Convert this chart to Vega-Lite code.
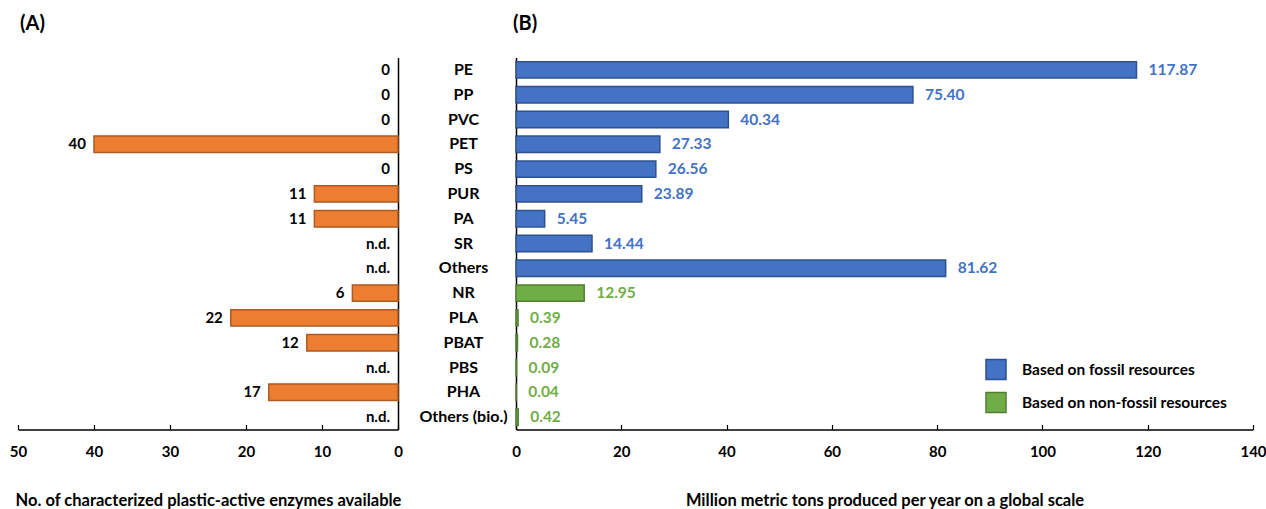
{
  "$schema": "https://vega.github.io/schema/vega-lite/v6.json",
  "autosize": {"type": "pad"},
  "padding": {"left": 9, "top": 13.5, "right": 0, "bottom": 0},
  "bounds": "flush",
  "spacing": 118,
  "config": {
    "font": "Lato",
    "view": {"stroke": null},
    "axis": {"labelFont": "Lato", "labelFontWeight": "bold", "labelColor": "#000", "domainColor": "#000", "tickColor": "#000", "titleFont": "Lato", "titleFontWeight": "bold", "titleColor": "#000", "grid": false, "domainWidth": 1.5, "tickWidth": 1.2, "labelFlush": false}
  },
  "data": {"values": [
    {"polymer": "PE", "enzymes": 0, "production": 117.87, "source": "Based on fossil resources"},
    {"polymer": "PP", "enzymes": 0, "production": 75.40, "source": "Based on fossil resources"},
    {"polymer": "PVC", "enzymes": 0, "production": 40.34, "source": "Based on fossil resources"},
    {"polymer": "PET", "enzymes": 40, "production": 27.33, "source": "Based on fossil resources"},
    {"polymer": "PS", "enzymes": 0, "production": 26.56, "source": "Based on fossil resources"},
    {"polymer": "PUR", "enzymes": 11, "production": 23.89, "source": "Based on fossil resources"},
    {"polymer": "PA", "enzymes": 11, "production": 5.45, "source": "Based on fossil resources"},
    {"polymer": "SR", "enzymes": null, "production": 14.44, "source": "Based on fossil resources"},
    {"polymer": "Others", "enzymes": null, "production": 81.62, "source": "Based on fossil resources"},
    {"polymer": "NR", "enzymes": 6, "production": 12.95, "source": "Based on non-fossil resources"},
    {"polymer": "PLA", "enzymes": 22, "production": 0.39, "source": "Based on non-fossil resources"},
    {"polymer": "PBAT", "enzymes": 12, "production": 0.28, "source": "Based on non-fossil resources"},
    {"polymer": "PBS", "enzymes": null, "production": 0.09, "source": "Based on non-fossil resources"},
    {"polymer": "PHA", "enzymes": 17, "production": 0.04, "source": "Based on non-fossil resources"},
    {"polymer": "Others (bio.)", "enzymes": null, "production": 0.42, "source": "Based on non-fossil resources"}
  ]},
  "hconcat": [
    {
      "width": 380,
      "height": 372,
      "title": {"text": "(A)", "anchor": "start", "frame": "group", "fontSize": 20, "fontWeight": "bold", "font": "Lato", "offset": 24, "dx": 2, "color": "#000"},
      "transform": [
        {"calculate": "datum.enzymes == null ? 0 : datum.enzymes", "as": "enzPos"},
        {"calculate": "datum.enzymes == null ? 'n.d.' : format(datum.enzymes, 'd')", "as": "enzLabel"}
      ],
      "encoding": {
        "y": {"field": "polymer", "type": "nominal", "sort": null,
              "scale": {"domain": ["PE", "PP", "PVC", "PET", "PS", "PUR", "PA", "SR", "Others", "NR", "PLA", "PBAT", "PBS", "PHA", "Others (bio.)"], "paddingInner": 0.34, "paddingOuter": 0.17},
              "axis": {"orient": "right", "labels": false, "ticks": false, "title": null}}
      },
      "layer": [
        {
          "transform": [{"filter": "datum.enzymes > 0"}],
          "mark": {"type": "bar", "fill": "#ED7D31", "stroke": "#AE5A21", "strokeWidth": 1.5},
          "encoding": {
            "x": {"field": "enzymes", "type": "quantitative",
                  "scale": {"domain": [0, 50], "reverse": true},
                  "axis": {"title": "No. of characterized plastic-active enzymes available", "values": [0, 10, 20, 30, 40, 50], "tickSize": -5, "labelPadding": 19.5, "labelFontSize": 15, "titleFontSize": 16.5, "titlePadding": 33}}
          }
        },
        {
          "mark": {"type": "text", "align": "right", "dx": -8, "fontWeight": "bold", "fontSize": 15, "color": "#000"},
          "encoding": {
            "x": {"field": "enzPos", "type": "quantitative"},
            "text": {"field": "enzLabel"}
          }
        }
      ]
    },
    {
      "width": 737,
      "height": 372,
      "title": {"text": "(B)", "anchor": "start", "frame": "group", "fontSize": 20, "fontWeight": "bold", "font": "Lato", "offset": 24, "dx": -3, "color": "#000"},
      "encoding": {
        "y": {"field": "polymer", "type": "nominal", "sort": null,
              "scale": {"domain": ["PE", "PP", "PVC", "PET", "PS", "PUR", "PA", "SR", "Others", "NR", "PLA", "PBAT", "PBS", "PHA", "Others (bio.)"], "paddingInner": 0.34, "paddingOuter": 0.17},
              "axis": {"title": null, "ticks": false, "labelAlign": "center", "labelPadding": 53, "labelFontSize": 16}}
      },
      "layer": [
        {
          "mark": {"type": "bar", "strokeWidth": 1.5},
          "encoding": {
            "x": {"field": "production", "type": "quantitative",
                  "scale": {"domain": [0, 140]},
                  "axis": {"title": "Million metric tons produced per year on a global scale", "values": [0, 20, 40, 60, 80, 100, 120, 140], "tickSize": -5, "labelPadding": 19.5, "labelFontSize": 15, "titleFontSize": 16.5, "titlePadding": 33}},
            "fill": {"field": "source", "type": "nominal",
                     "scale": {"domain": ["Based on fossil resources", "Based on non-fossil resources"], "range": ["#4472C4", "#70AD47"]},
                     "legend": {"title": null, "orient": "none", "legendX": 967, "legendY": 301, "symbolType": "square", "symbolSize": 400, "labelFontSize": 15.5, "labelFontWeight": "bold", "labelColor": "#000", "labelOffset": 15, "labelLimit": 400, "rowPadding": 7, "padding": 0, "symbolStrokeWidth": 1.5, "symbolOpacity": 1}},
            "stroke": {"field": "source", "type": "nominal",
                     "scale": {"domain": ["Based on fossil resources", "Based on non-fossil resources"], "range": ["#2F528F", "#507E32"]},
                     "legend": {"title": null, "orient": "none", "legendX": 967, "legendY": 301, "symbolType": "square", "symbolSize": 400, "labelFontSize": 15.5, "labelFontWeight": "bold", "labelColor": "#000", "labelOffset": 15, "labelLimit": 400, "rowPadding": 7, "padding": 0, "symbolStrokeWidth": 1.5, "symbolOpacity": 1}}
          }
        },
        {
          "mark": {"type": "text", "align": "left", "dx": 12, "fontWeight": "bold", "fontSize": 15.5},
          "encoding": {
            "x": {"field": "production", "type": "quantitative"},
            "text": {"field": "production", "type": "quantitative", "format": ".2f"},
            "color": {"condition": {"test": "datum.source == 'Based on fossil resources'", "value": "#4472C4"}, "value": "#70AD47"}
          }
        }
      ]
    }
  ]
}
